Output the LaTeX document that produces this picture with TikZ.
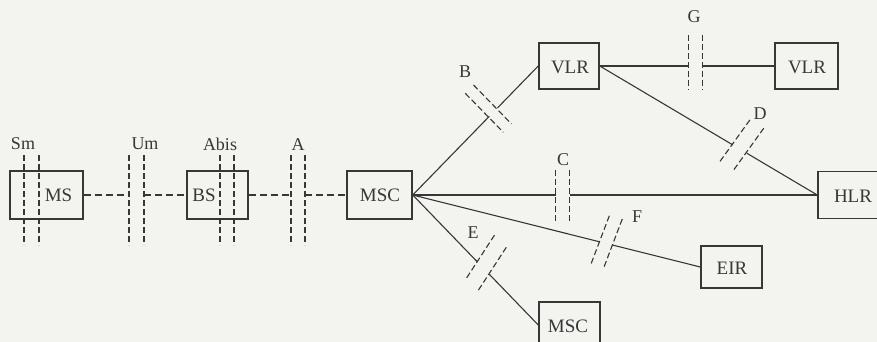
\documentclass[tikz,border=0pt]{standalone}
\usepackage{fontspec}
\setmainfont{Liberation Serif}
\usetikzlibrary{calc}
\definecolor{ink}{RGB}{55,55,55}
\definecolor{paper}{RGB}{243,243,240}
\begin{document}
\begin{tikzpicture}[x=1pt,y=-1pt,
  box/.style={draw=ink, line width=1.5pt, inner sep=0pt},
  txt/.style={text=ink, font=\fontsize{19}{19}\selectfont, inner sep=0pt},
  lbl/.style={text=ink, font=\fontsize{18}{18}\selectfont, inner sep=0pt},
  link/.style={draw=ink, line width=1.1pt},
  air/.style={draw=ink, line width=1.1pt, dash pattern=on 7pt off 4pt},
  cut/.style={draw=ink, line width=1.1pt, dash pattern=on 6pt off 3pt}]
\useasboundingbox (0,0) rectangle (877,342);
\clip (0,0) rectangle (877,342);
\fill[paper] (0,0) rectangle (877,342);

% boxes
\node[box, minimum width=73pt, minimum height=48pt] (ms) at (46.5,195) {};
\node[box, minimum width=61pt, minimum height=48pt] (bs) at (217.5,195) {};
\node[box, minimum width=65pt, minimum height=48pt] (msc) at (379.5,195) {};
\node[box, minimum width=60pt, minimum height=46pt] (vlra) at (569,66) {};
\node[box, minimum width=63pt, minimum height=46pt] (vlrb) at (806.5,66) {};
\node[box, minimum width=72pt, minimum height=47pt] (hlr) at (854,195) {};
\node[box, minimum width=61pt, minimum height=42pt] (eir) at (731.5,267) {};
\node[box, minimum width=61pt, minimum height=46pt] (mscb) at (569.5,325) {};

% box texts
\node[txt] (mst) at (58.5,195) {MS};
\node[txt] (bst) at (204,195) {BS};
\node[txt] (msct) at (380,195) {MSC};
\node[txt] (vlrat) at (570,67) {VLR};
\node[txt] (vlrbt) at (807,67) {VLR};
\node[txt] (hlrt) at (853,196) {HLR};
\node[txt] (eirt) at (732,268) {EIR};
\node[txt] (mscbt) at (568,326) {MSC};

% interface labels
\node[lbl] (lsm) at (23,144) {Sm};
\node[lbl] (lum) at (145,144) {Um};
\node[lbl] (labis) at (220,144) {Abis};
\node[lbl] (la) at (298,145) {A};
\node[lbl] (lb) at (465,72) {B};
\node[lbl] (lc) at (563,160) {C};
\node[lbl] (ld) at (760,114) {D};
\node[lbl] (le) at (473,233) {E};
\node[lbl] (lf) at (637,217) {F};
\node[lbl] (lg) at (694,17) {G};

% vertical interface markers (radio side)
\foreach \x in {24,39,129,144,220,234,291,305}
  \draw[cut] (\x,155) -- (\x,245);
\coordinate (um1) at (129,195);
\coordinate (um2) at (144,195);
\coordinate (a1) at (291,195);
\coordinate (a2) at (305,195);
\draw[air] (ms.east) -- (um1);
\draw[air] (um2) -- (bs.west);
\draw[air] (bs.east) -- (a1);
\draw[air] (a2) -- (msc.west);

% B: MSC - VLR
\coordinate (b1) at ($(msc.east)!0.61!(vlra.west)$);
\coordinate (b2) at ($(msc.east)!0.675!(vlra.west)$);
\draw[link] (msc.east) -- (b1);
\draw[link] (b2) -- (vlra.west);
\draw[cut] ($(b1)+(-24,-23)$) -- ($(b1)+(14,16)$);
\draw[cut] ($(b2)+(-24,-23)$) -- ($(b2)+(14,16)$);

% C: MSC - HLR
\coordinate (c1) at ($(msc.east)!0.353!(hlr.west)$);
\coordinate (c2) at ($(msc.east)!0.388!(hlr.west)$);
\draw[link] (msc.east) -- (c1);
\draw[link] (c2) -- (hlr.west);
\draw[cut] ($(c1)+(0,-25)$) -- ($(c1)+(0,28)$);
\draw[cut] ($(c2)+(0,-25)$) -- ($(c2)+(0,28)$);

% D: VLR - HLR
\coordinate (d1) at ($(vlra.east)!0.612!(hlr.west)$);
\coordinate (d2) at ($(vlra.east)!0.676!(hlr.west)$);
\draw[link] (vlra.east) -- (d1);
\draw[link] (d2) -- (hlr.west);
\draw[cut] ($(d1)+(17,-25)$) -- ($(d1)+(-14,18)$);
\draw[cut] ($(d2)+(17,-25)$) -- ($(d2)+(-14,18)$);

% E: MSC - MSC
\coordinate (e1) at ($(msc.east)!0.516!(mscb.west)$);
\coordinate (e2) at ($(msc.east)!0.61!(mscb.west)$);
\draw[link] (msc.east) -- (e1);
\draw[link] (e2) -- (mscb.west);
\draw[cut] ($(e1)+(17,-27)$) -- ($(e1)+(-11,16)$);
\draw[cut] ($(e2)+(17,-27)$) -- ($(e2)+(-11,16)$);

% F: MSC - EIR
\coordinate (f1) at ($(msc.east)!0.649!(eir.west)$);
\coordinate (f2) at ($(msc.east)!0.694!(eir.west)$);
\draw[link] (msc.east) -- (f1);
\draw[link] (f2) -- (eir.west);
\draw[cut] ($(f1)+(10,-26)$) -- ($(f1)+(-9,24)$);
\draw[cut] ($(f2)+(10,-26)$) -- ($(f2)+(-9,24)$);

% G: VLR - VLR
\coordinate (g1) at ($(vlra.east)!0.506!(vlrb.west)$);
\coordinate (g2) at ($(vlra.east)!0.591!(vlrb.west)$);
\draw[link] (vlra.east) -- (g1);
\draw[link] (g2) -- (vlrb.west);
\draw[cut] ($(g1)+(0,-31)$) -- ($(g1)+(0,24)$);
\draw[cut] ($(g2)+(0,-31)$) -- ($(g2)+(0,24)$);
\end{tikzpicture}
\end{document}
